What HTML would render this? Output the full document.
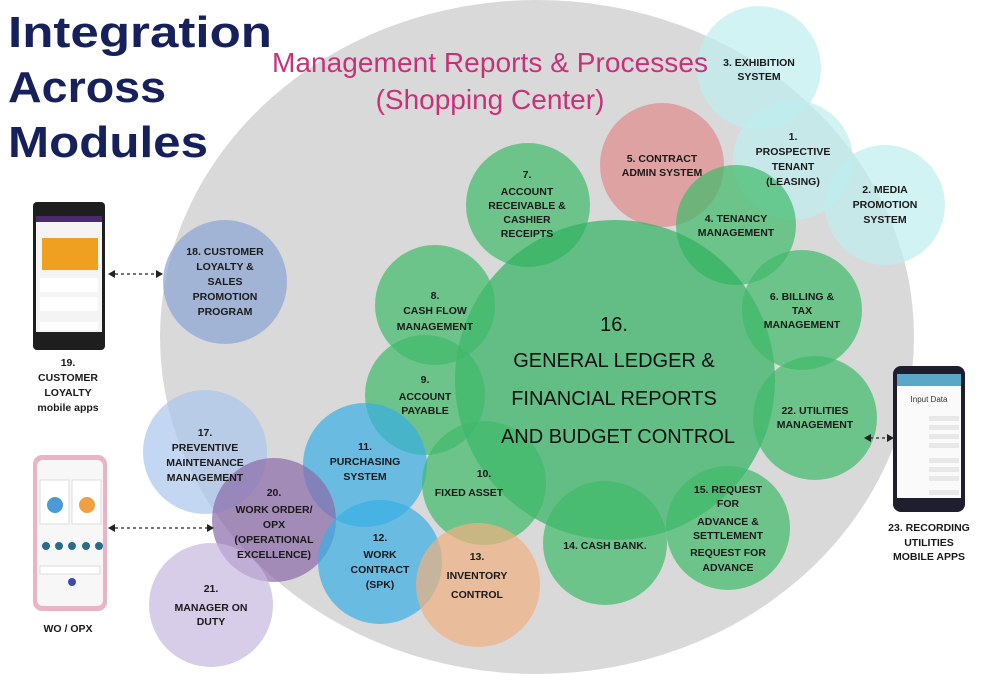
<!DOCTYPE html>
<html><head><meta charset="utf-8"><style>
html,body{margin:0;padding:0;background:#fff;}
svg{display:block;}
text{font-family:"Liberation Sans",sans-serif;}
.l{font-size:10.5px;font-weight:bold;fill:#1a1a1a;text-anchor:middle;}
</style></head><body>
<svg width="996" height="690" viewBox="0 0 996 690" xmlns="http://www.w3.org/2000/svg">
<ellipse cx="537" cy="337" rx="377" ry="337" fill="#d9d9d9"/>
<text x="8" y="47" font-size="44" font-weight="bold" fill="#16215c" textLength="264" lengthAdjust="spacingAndGlyphs">Integration</text>
<text x="8" y="102" font-size="44" font-weight="bold" fill="#16215c" textLength="158" lengthAdjust="spacingAndGlyphs">Across</text>
<text x="8" y="157" font-size="44" font-weight="bold" fill="#16215c" textLength="200" lengthAdjust="spacingAndGlyphs">Modules</text>

<g fill-opacity="0.7">
<circle cx="759" cy="68" r="62" fill="#bdeef0"/>
<circle cx="793" cy="160" r="60" fill="#bdeef0"/>
<circle cx="885" cy="205" r="60" fill="#bdeef0"/>
<circle cx="662" cy="165" r="62" fill="#e08a8a"/>
<circle cx="528" cy="205" r="62" fill="#3fba6a"/>
<circle cx="736" cy="225" r="60" fill="#3fba6a"/>
<circle cx="615" cy="380" r="160" fill="#2fb25f"/>
<circle cx="802" cy="310" r="60" fill="#3fba6a"/>
<circle cx="435" cy="305" r="60" fill="#3fba6a"/>
<circle cx="425" cy="395" r="60" fill="#3fba6a"/>
<circle cx="815" cy="418" r="62" fill="#3fba6a"/>
<circle cx="225" cy="282" r="62" fill="#8aa4d4"/>
<circle cx="205" cy="452" r="62" fill="#a9c6ec"/>
<circle cx="365" cy="465" r="62" fill="#39aee6"/>
<circle cx="484" cy="483" r="62" fill="#3fba6a"/>
<circle cx="274" cy="520" r="62" fill="#8a6aa8"/>
<circle cx="380" cy="562" r="62" fill="#39aee6"/>
<circle cx="478" cy="585" r="62" fill="#f0b080"/>
<circle cx="605" cy="543" r="62" fill="#3fba6a"/>
<circle cx="728" cy="528" r="62" fill="#3fba6a"/>
<circle cx="211" cy="605" r="62" fill="#c8b8e0"/>
</g>
<text x="490" y="72" font-size="28" fill="#c8317a" text-anchor="middle" textLength="436">Management Reports &amp; Processes</text>
<text x="490" y="109" font-size="28" fill="#c8317a" text-anchor="middle">(Shopping Center)</text>

<g class="l">
<text x="759" y="66" class="l">3. EXHIBITION</text><text x="759" y="80" class="l">SYSTEM</text>
<text x="793" y="140" class="l">1.</text><text x="793" y="155" class="l">PROSPECTIVE</text><text x="793" y="170" class="l">TENANT</text><text x="793" y="185" class="l">(LEASING)</text>
<text x="885" y="193" class="l">2. MEDIA</text><text x="885" y="208" class="l">PROMOTION</text><text x="885" y="223" class="l">SYSTEM</text>
<text x="662" y="162" class="l">5. CONTRACT</text><text x="662" y="176" class="l">ADMIN SYSTEM</text>
<text x="527" y="178" class="l">7.</text><text x="527" y="195" class="l">ACCOUNT</text><text x="527" y="209" class="l">RECEIVABLE &amp;</text><text x="527" y="223" class="l">CASHIER</text><text x="527" y="237" class="l">RECEIPTS</text>
<text x="736" y="222" class="l">4. TENANCY</text><text x="736" y="236" class="l">MANAGEMENT</text>
<text x="802" y="300" class="l">6. BILLING &amp;</text><text x="802" y="314" class="l">TAX</text><text x="802" y="328" class="l">MANAGEMENT</text>
<text x="435" y="299" class="l">8.</text><text x="435" y="314" class="l">CASH FLOW</text><text x="435" y="330" class="l">MANAGEMENT</text>
<text x="425" y="383" class="l">9.</text><text x="425" y="400" class="l">ACCOUNT</text><text x="425" y="414" class="l">PAYABLE</text>
<text x="815" y="414" class="l">22. UTILITIES</text><text x="815" y="428" class="l">MANAGEMENT</text>
<text x="225" y="255" class="l">18. CUSTOMER</text><text x="225" y="270" class="l">LOYALTY &amp;</text><text x="225" y="285" class="l">SALES</text><text x="225" y="300" class="l">PROMOTION</text><text x="225" y="315" class="l">PROGRAM</text>
<text x="205" y="436" class="l">17.</text><text x="205" y="451" class="l">PREVENTIVE</text><text x="205" y="466" class="l">MAINTENANCE</text><text x="205" y="481" class="l">MANAGEMENT</text>
<text x="365" y="450" class="l">11.</text><text x="365" y="465" class="l">PURCHASING</text><text x="365" y="480" class="l">SYSTEM</text>
<text x="484" y="477" class="l">10.</text><text x="469" y="496" class="l">FIXED ASSET</text>
<text x="274" y="496" class="l">20.</text><text x="274" y="513" class="l">WORK ORDER/</text><text x="274" y="528" class="l">OPX</text><text x="274" y="543" class="l">(OPERATIONAL</text><text x="274" y="558" class="l">EXCELLENCE)</text>
<text x="380" y="541" class="l">12.</text><text x="380" y="558" class="l">WORK</text><text x="380" y="573" class="l">CONTRACT</text><text x="380" y="588" class="l">(SPK)</text>
<text x="477" y="560" class="l">13.</text><text x="477" y="579" class="l">INVENTORY</text><text x="477" y="598" class="l">CONTROL</text>
<text x="605" y="549" class="l">14. CASH BANK.</text>
<text x="728" y="493" class="l">15. REQUEST</text><text x="728" y="507" class="l">FOR</text><text x="728" y="525" class="l">ADVANCE &amp;</text><text x="728" y="539" class="l">SETTLEMENT</text><text x="728" y="556" class="l">REQUEST FOR</text><text x="728" y="571" class="l">ADVANCE</text>
<text x="211" y="592" class="l">21.</text><text x="211" y="611" class="l">MANAGER ON</text><text x="211" y="625" class="l">DUTY</text>
</g>
<g font-size="20" fill="#111" text-anchor="middle">
<text x="614" y="331">16.</text>
<text x="614" y="367">GENERAL LEDGER &amp;</text>
<text x="614" y="405">FINANCIAL REPORTS</text>
<text x="618" y="443">AND BUDGET CONTROL</text>
</g>

<rect x="33" y="202" width="72" height="148" rx="4" fill="#1e1e1e"/>
<rect x="36" y="216" width="66" height="116" fill="#f4f4f4"/>
<rect x="36" y="216" width="66" height="6" fill="#4a2a6a"/>
<rect x="42" y="238" width="56" height="32" fill="#f0a020"/>
<rect x="40" y="278" width="58" height="14" fill="#fff"/>
<rect x="40" y="297" width="58" height="14" fill="#fff"/>
<rect x="40" y="322" width="58" height="8" fill="#fff"/>
<text x="68" y="366" class="l">19.</text><text x="68" y="381" class="l">CUSTOMER</text><text x="68" y="396" class="l">LOYALTY</text><text x="68" y="411" class="l">mobile apps</text>
<line x1="115" y1="274" x2="156" y2="274" stroke="#222" stroke-width="1.3" stroke-dasharray="3,3"/>
<path d="M108 274 l7 -4 v8z M163 274 l-7 -4 v8z" fill="#222"/>

<rect x="33" y="455" width="74" height="156" rx="9" fill="#e9b5c5"/>
<rect x="37" y="460" width="66" height="146" rx="6" fill="#f7f7f7"/>
<rect x="40" y="480" width="29" height="44" fill="#fff" stroke="#ddd"/>
<rect x="72" y="480" width="29" height="44" fill="#fff" stroke="#ddd"/>
<circle cx="55" cy="505" r="8" fill="#4a9ad8"/><circle cx="87" cy="505" r="8" fill="#f0a040"/>
<g fill="#2a6a8a"><circle cx="46" cy="546" r="4"/><circle cx="59" cy="546" r="4"/><circle cx="72" cy="546" r="4"/><circle cx="86" cy="546" r="4"/><circle cx="99" cy="546" r="4"/></g>
<rect x="40" y="566" width="60" height="8" fill="#fff" stroke="#ddd"/>
<circle cx="72" cy="582" r="4" fill="#3a4ab0"/>
<text x="68" y="632" class="l">WO / OPX</text>
<line x1="115" y1="528" x2="208" y2="528" stroke="#222" stroke-width="1.3" stroke-dasharray="3,3"/>
<path d="M108 528 l7 -4 v8z M214 528 l-7 -4 v8z" fill="#222"/>

<rect x="893" y="366" width="72" height="146" rx="8" fill="#1e1e2e"/>
<rect x="897" y="374" width="64" height="124" fill="#fafafa"/>
<rect x="897" y="374" width="64" height="12" fill="#5aa8c8"/>
<text x="929" y="402" font-size="8" text-anchor="middle" fill="#333">Input Data</text>
<g fill="#e8e8e8"><rect x="929" y="416" width="30" height="5"/><rect x="929" y="425" width="30" height="5"/><rect x="929" y="434" width="30" height="5"/><rect x="929" y="443" width="30" height="5"/><rect x="929" y="458" width="30" height="5"/><rect x="929" y="467" width="30" height="5"/><rect x="929" y="476" width="30" height="5"/><rect x="929" y="490" width="30" height="5"/></g>
<text x="929" y="531" class="l">23. RECORDING</text><text x="929" y="546" class="l">UTILITIES</text><text x="929" y="560" class="l">MOBILE APPS</text>
<line x1="870" y1="438" x2="887" y2="438" stroke="#222" stroke-width="1.3" stroke-dasharray="3,3"/>
<path d="M864 438 l7 -4 v8z M894 438 l-7 -4 v8z" fill="#222"/>
</svg>
</body></html>
